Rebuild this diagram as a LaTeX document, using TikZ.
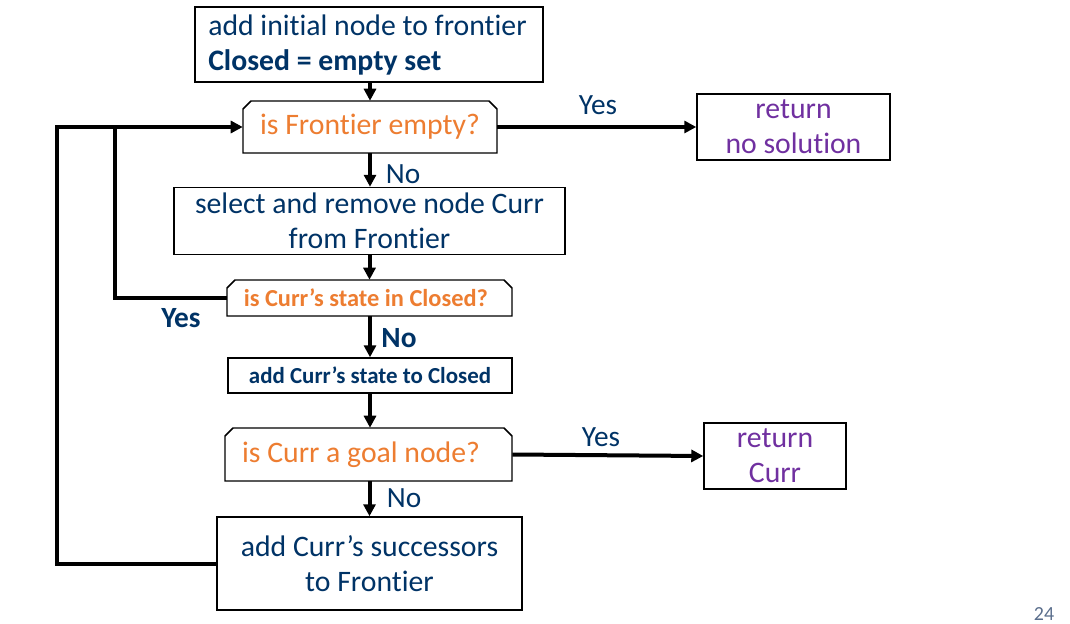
\documentclass[tikz,border=0pt]{standalone}
\usepackage{fontspec}
\setmainfont{Carlito}[Ligatures={NoCommon}]
\usetikzlibrary{arrows.meta}
\definecolor{dblue}{RGB}{0,51,102}
\definecolor{dorange}{RGB}{237,125,49}
\definecolor{dpurple}{RGB}{112,48,160}
\definecolor{pgnum}{RGB}{90,110,140}
\begin{document}
\begin{tikzpicture}[x=0.75pt,y=-0.75pt,
  box/.style={draw=black,line width=1.1pt,fill=white,rectangle,inner sep=0pt,align=center},
  dec/.style={draw=none,rectangle,inner sep=0pt,align=center,text=dorange},
  decline/.style={draw=black,line width=1.1pt,fill=white,line join=miter},
  big/.style={font=\fontsize{22.3}{26.25}\selectfont},
  lab/.style={font=\fontsize{22}{26}\selectfont},
  blab/.style={font=\fontsize{22}{26}\selectfont\bfseries},
  lbl/.style={inner sep=0pt,text=dblue},
  conn/.style={line width=3pt,line join=miter},
  arr/.style={conn,-{Triangle[length=9pt,width=9pt]}},
]
\useasboundingbox (0,0) rectangle (1070,624);

\node[box,minimum width=261pt,minimum height=56.25pt] (box1) at (369,44.5) {};
\node[inner sep=0pt,big,text=dblue,align=left,anchor=west] (box1t) at (208,45)
  {add initial node to frontier\\\textbf{Closed = empty set}};
\node[box,big,text=dpurple,minimum width=144.75pt,minimum height=49.5pt] (ret1) at (793.5,127) {return\\no solution};
\node[box,big,text=dblue,minimum width=293.25pt,minimum height=50.25pt] (sel) at (369.5,221)
  {select and remove node Curr\\from Frontier};
\node[box,font=\fontsize{17.2}{20}\selectfont\bfseries,text=dblue,minimum width=213pt,minimum height=26.25pt] (addc) at (370,375.5) {add Curr’s state to Closed};
\node[box,big,text=dpurple,minimum width=106.5pt,minimum height=49.5pt] (ret2) at (775,456) {return\\Curr};
\node[box,big,text=dblue,minimum width=228.75pt,minimum height=69.75pt] (succ) at (369.5,563.5)
  {add Curr’s successors\\to Frontier};

% decision shapes (top corners chamfered)
\path[decline] (243,153) -- (243,109) -- (251,101) -- (489,101) -- (497,109) -- (497,153) -- cycle;
\path[decline] (227,316) -- (227,288) -- (235,280) -- (504,280) -- (512,288) -- (512,316) -- cycle;
\path[decline] (225,481) -- (225,436) -- (233,428) -- (504,428) -- (512,436) -- (512,481) -- cycle;
\node[dec,big,minimum width=190.5pt,minimum height=39pt] (dec1) at (370,127) {is Frontier empty?};
\node[dec,font=\fontsize{18.3}{21}\selectfont\bfseries,minimum width=213.75pt,minimum height=27pt] (dec2) at (369.5,298) {is Curr’s state in Closed?\hspace*{0.3em}};
\node[dec,big,minimum width=215.25pt,minimum height=39.75pt] (dec3) at (368.5,454.5) {is Curr a goal node?\hspace*{0.5em}};

\coordinate (loopA) at (115,127);
\coordinate (loopB) at (57,127);

\draw[arr] (box1.south -| dec1.north) -- (dec1.north);
\draw[arr] (dec1.east) -- (ret1.west);
\draw[arr] (dec1.south) -- (sel.north -| dec1.south);
\draw[arr] (sel.south -| dec2.north) -- (dec2.north);
\draw[arr] (dec2.west) -| (loopA) -- (dec1.west);
\draw[conn] (succ.west) -| (loopB) -- (loopA);
\draw[arr] (dec2.south -| addc.north) -- (addc.north);
\draw[arr] (addc.south) -- (dec3.north -| addc.south);
\draw[arr] (dec3.east) -- (ret2.west);
\draw[arr] (dec3.south -| succ.north) -- (succ.north);

\node[lbl,lab] (y1) at (598,105) {Yes};
\node[lbl,lab] (n1) at (403,174) {No};
\node[lbl,blab] (y2) at (181,318) {Yes};
\node[lbl,blab] (n2) at (399,338) {No};
\node[lbl,lab] (y3) at (601,437) {Yes};
\node[lbl,lab] (n3) at (404,498) {No};

\node[inner sep=0pt,text=pgnum,font=\fontsize{15}{17}\selectfont] (pg) at (1044,614) {24};
\end{tikzpicture}
\end{document}
